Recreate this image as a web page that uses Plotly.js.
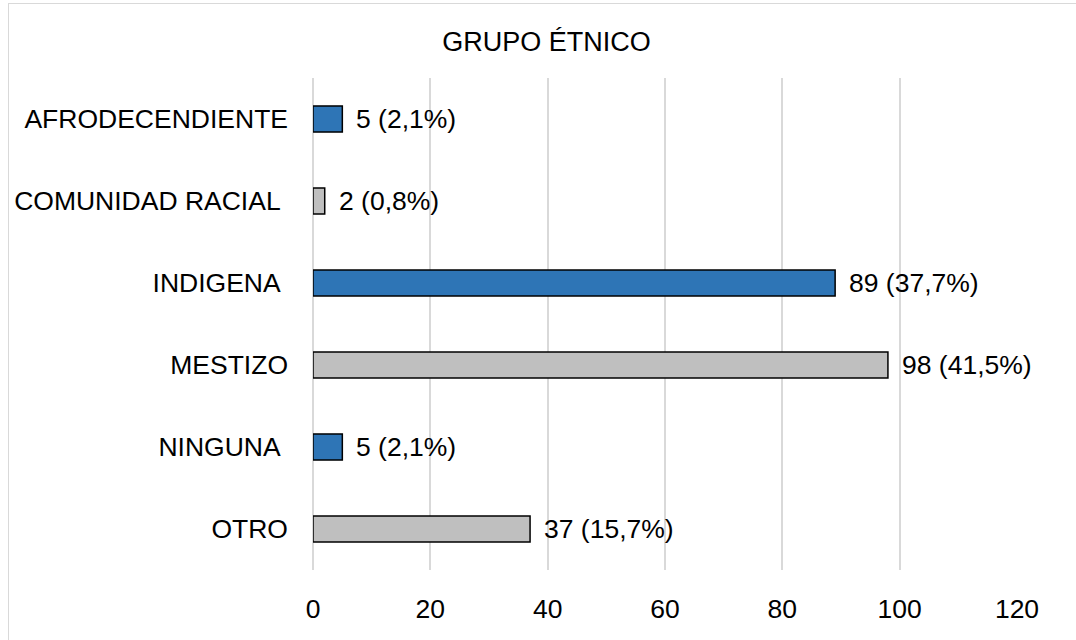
<!DOCTYPE html>
<html>
<head>
<meta charset="utf-8">
<script src="https://cdn.plot.ly/plotly-3.0.1.min.js"></script>
<style>
html,body{margin:0;padding:0;background:#fff;overflow:hidden;}
#chart{width:1076px;height:640px;position:relative;}
#frame{position:absolute;left:8px;top:3px;width:1100px;height:700px;border:1.5px solid #d9d9d9;pointer-events:none;}
</style>
</head>
<body>
<div id="chart"></div>
<div id="frame"></div>
<script>
const categories = ["AFRODECENDIENTE", "COMUNIDAD RACIAL", "INDIGENA", "MESTIZO", "NINGUNA", "OTRO"];
const categoryLabels = ["AFRODECENDIENTE", "COMUNIDAD RACIAL\u00a0", "INDIGENA\u00a0", "MESTIZO", "NINGUNA\u00a0", "OTRO"];
const counts = [5, 2, 89, 98, 5, 37];
const percents = ["2,1%", "0,8%", "37,7%", "41,5%", "2,1%", "15,7%"];
const barColors = ["#2E75B6", "#BFBFBF", "#2E75B6", "#BFBFBF", "#2E75B6", "#BFBFBF"];
const tickValues = [0, 20, 40, 60, 80, 100, 120];

const font = {family: "Liberation Sans, Arial, sans-serif", size: 26.5, color: "#000"};
const titleFont = {family: "Liberation Sans, Arial, sans-serif", size: 27, color: "#000"};

const trace = {
  type: "bar",
  orientation: "h",
  y: categories,
  x: counts,
  width: 0.32,
  marker: {color: barColors, line: {color: "#000", width: 1.5}},
  hoverinfo: "none"
};

const annotations = categories.map((c, i) => ({
  x: counts[i], y: c, xref: "x", yref: "y",
  text: counts[i] + " (" + percents[i] + ")",
  showarrow: false, xanchor: "left", yanchor: "middle", xshift: 12,
  font: font
}));

const layout = {
  width: 1076, height: 640,
  margin: {l: 313, r: 59, t: 78, b: 70},
  paper_bgcolor: "#fff", plot_bgcolor: "#fff",
  font: font,
  showlegend: false,
  title: {text: "GRUPO ÉTNICO", font: titleFont, x: 0.508, xanchor: "center", y: 0.935, yanchor: "middle"},
  xaxis: {
    range: [0, 120], tickvals: tickValues, ticktext: tickValues.map(String),
    showgrid: true, gridcolor: "#d9d9d9", gridwidth: 2,
    zeroline: true, zerolinecolor: "#d9d9d9", zerolinewidth: 2,
    showline: false, ticks: "", ticklabelstandoff: 20,
    tickfont: font, fixedrange: true
  },
  yaxis: {
    type: "category", autorange: "reversed",
    categoryorder: "array", categoryarray: categories,
    tickvals: categories, ticktext: categoryLabels,
    showgrid: false, zeroline: false, showline: false, ticks: "",
    ticklabelstandoff: 24, tickfont: font, fixedrange: true
  },
  annotations: annotations
};

Plotly.newPlot("chart", [trace], layout, {displayModeBar: false, staticPlot: true});
</script>
</body>
</html>
